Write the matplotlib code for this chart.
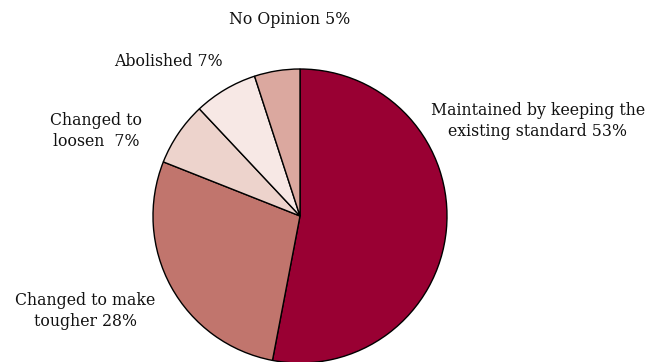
import matplotlib
matplotlib.use("Agg")
import matplotlib.pyplot as plt

# Survey answers, clockwise from the top
labels = ["Maintained by keeping the\nexisting standard 53%",
          "Changed to make\ntougher 28%",
          "Changed to\nloosen  7%",
          "Abolished 7%",
          "No Opinion 5%"]
shares = [53, 28, 7, 7, 5]
colors = ["#990033", "#C1756D", "#EDD3CC", "#F7E8E5", "#DBA89F"]

# label anchor points in figure pixels (x, y from top)
label_pos = [(538, 121), (85, 311), (96, 131), (168, 62), (290, 20)]

W, H = 651, 362
fig = plt.figure(figsize=(W / 100, H / 100), dpi=100)

cx, cy, r = 300, 216, 147
ax = fig.add_axes([(cx - r) / W, (H - cy - r) / H, 2 * r / W, 2 * r / H])
ax.pie(shares, colors=colors, startangle=90, counterclock=False,
       wedgeprops=dict(edgecolor="black", linewidth=1.0))
ax.set_xlim(-1, 1)
ax.set_ylim(-1, 1)
ax.set_aspect("equal")
ax.axis("off")

for text, (x, y) in zip(labels, label_pos):
    fig.text(x / W, 1 - y / H, text, ha="center", va="center",
             fontsize=11.3, family="DejaVu Serif", color="#111111",
             linespacing=1.3)

fig.savefig("out.png", dpi=100)
